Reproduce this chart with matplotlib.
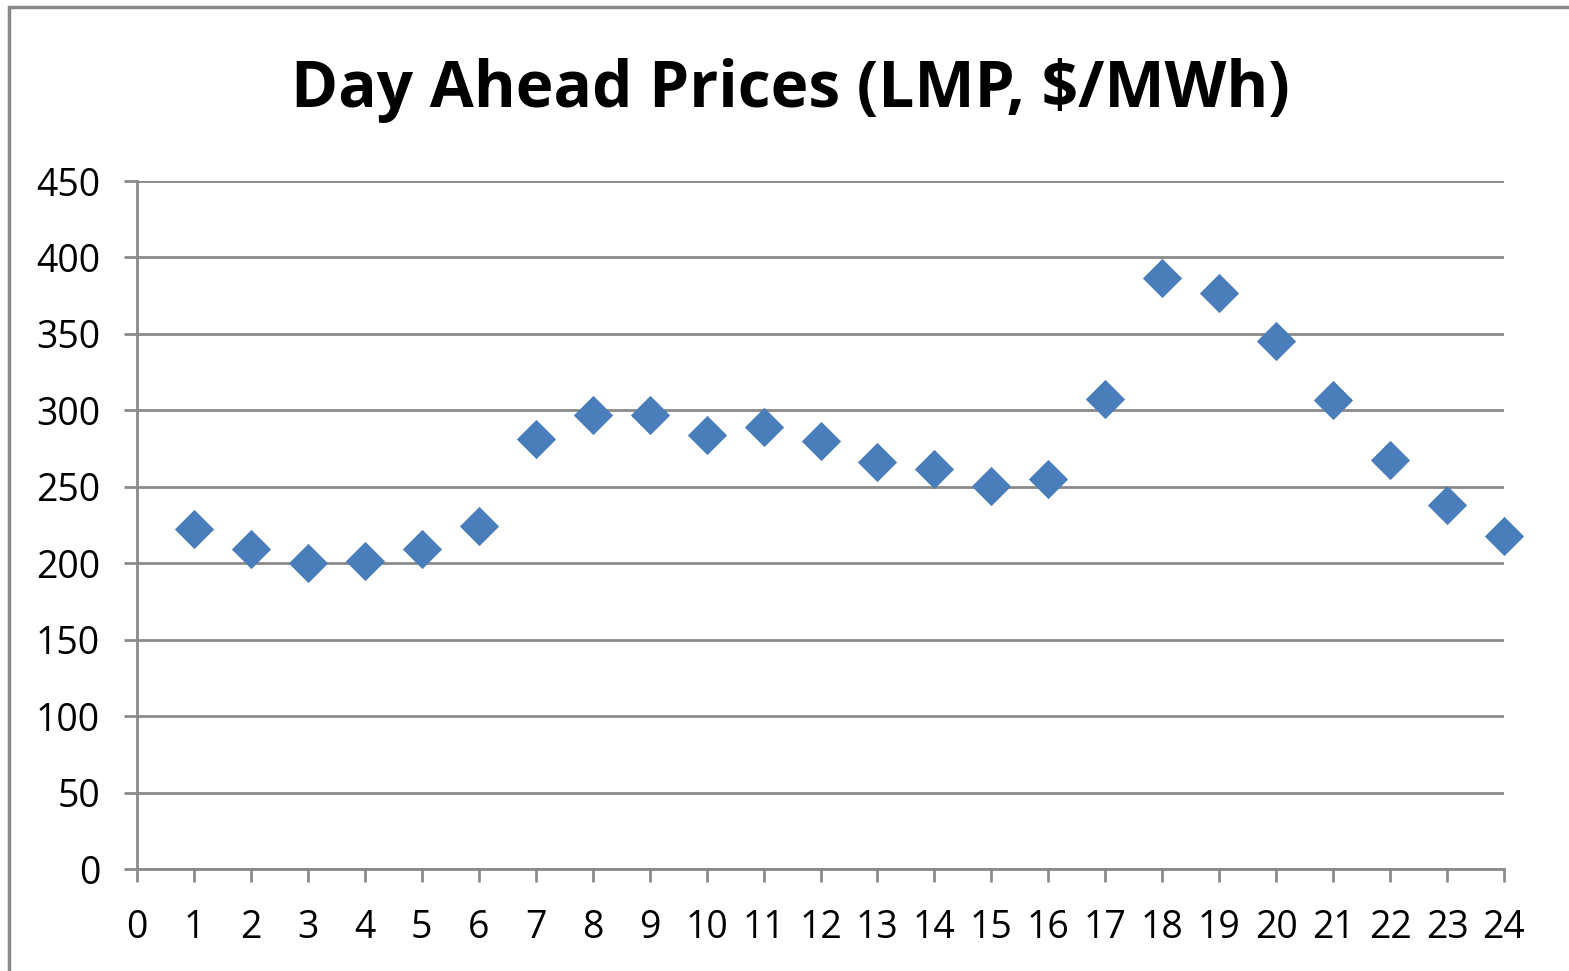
import matplotlib
matplotlib.use("Agg")
import matplotlib.pyplot as plt
from matplotlib.patches import Rectangle

hours = list(range(1, 25))
prices = [222.4, 209.3, 200.1, 201.5, 209.3, 224.3, 281.2, 296.9, 296.9, 283.9,
          289.1, 279.9, 266.2, 261.6, 250.5, 255.1, 307.4, 386.5, 376.7, 345.3,
          306.8, 267.5, 238.1, 217.8]
title = "Day Ahead Prices (LMP, $/MWh)"
xticks = list(range(0, 25))
yticks = list(range(0, 451, 50))

plt.rcParams['font.family'] = ['Open Sans', 'DejaVu Sans']
W, H = 1569, 971
fig = plt.figure(figsize=(W / 100, H / 100), dpi=100)
ax = fig.add_axes([137 / W, 1 - 869 / H, (1504 - 137) / W, (869 - 181) / H])

grid_c = '#8a8a8a'
ax.set_xlim(0, 24)
ax.set_ylim(0, 450)
ax.set_yticks(yticks)
ax.set_xticks(xticks)
ax.yaxis.grid(True, color=grid_c, linewidth=2)
ax.set_axisbelow(True)
for s in ['top', 'right']:
    ax.spines[s].set_visible(False)
for s in ['left', 'bottom']:
    ax.spines[s].set_color(grid_c)
    ax.spines[s].set_linewidth(2)
ax.tick_params(axis='both', colors=grid_c, width=2, length=9.5, labelcolor='black',
               labelsize=27)
ax.tick_params(axis='y', pad=17)
ax.tick_params(axis='x', pad=19)

ax.scatter(hours, prices, marker='D', s=400, color='#4a7ebb', zorder=3,
           clip_on=False, linewidths=0)

fig.text(790 / W, 1 - 90 / H, title, ha='center', va='center',
         fontsize=46, fontweight='bold')

fig.patches.append(Rectangle((9 / W, -0.1), 1.2, (1 - 7 / H) + 0.1,
                             transform=fig.transFigure, fill=False,
                             edgecolor=grid_c, linewidth=2.5))

fig.savefig('out.png', dpi=100, facecolor='white')
